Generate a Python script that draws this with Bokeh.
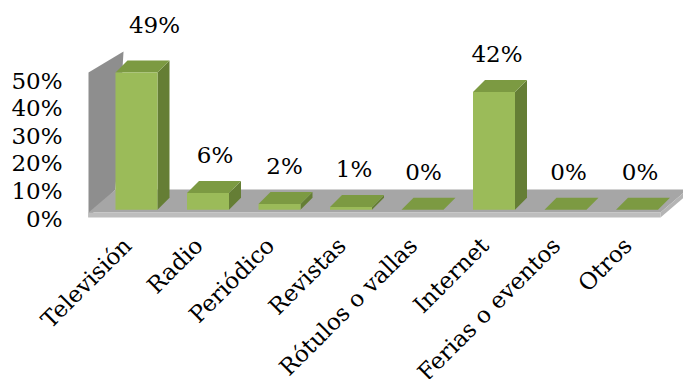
from math import pi

from bokeh.core.properties import value
from bokeh.embed import file_html
from bokeh.models import ColumnDataSource, Range1d
from bokeh.plotting import figure
from bokeh.resources import INLINE

# Share of respondents by media channel (percent)
categories = ["Televisión", "Radio", "Periódico", "Revistas",
              "Rótulos o vallas", "Internet", "Ferias o eventos", "Otros"]
shares = [49, 6, 2, 1, 0, 42, 0, 0]
tick_values = [0, 10, 20, 30, 40, 50]
tick_labels = ["0%", "10%", "20%", "30%", "40%", "50%"]

# ---- canvas and data <-> screen scale -------------------------------------
W, H = 683, 379
PX_PER_CAT = 71.5      # screen px per category slot
PX_PER_PCT = 2.8       # screen px per percentage point
ORIGIN_X, ORIGIN_Y = 88, 212   # front-left corner of the floor, px

def dx(px):
    return px / PX_PER_CAT

def dy(px):
    return px / PX_PER_PCT

FONT = value("DejaVu Serif")
FONT_SIZE = "23px"

# 3-D box geometry in data units
n = len(categories)
FLOOR_DX, FLOOR_DY = dx(27), dy(23)   # depth of the floor
FLOOR_T = dy(5)                        # floor thickness
WALL_TOP = max(tick_values)
WALL_BACK_X, WALL_BACK_Y = dx(35), dy(161)
BAR_SHIFT = dx(136 - ORIGIN_X) - 0.5   # bar centre offset within its slot
BAR_BASE = dy(2.8)
BAR_HALF = dx(21)
BAR_DX, BAR_DY = dx(12), dy(12)

p = figure(width=W, height=H, output_backend="svg", toolbar_location=None,
           x_range=Range1d(-ORIGIN_X / PX_PER_CAT, (W - ORIGIN_X) / PX_PER_CAT),
           y_range=Range1d((ORIGIN_Y - H) / PX_PER_PCT, ORIGIN_Y / PX_PER_PCT),
           x_axis_location=None, y_axis_location=None, min_border=0,
           outline_line_color=None, background_fill_color="white",
           border_fill_color="white")
p.grid.visible = False

# side wall
p.patch([0, 0, WALL_BACK_X, FLOOR_DX],
        [-FLOOR_T, WALL_TOP, WALL_BACK_Y, FLOOR_DY],
        fill_color="#8E8E8E", line_color=None)

# floor: top, front edge, right edge
p.patch([0, n, n + FLOOR_DX, FLOOR_DX], [0, 0, FLOOR_DY, FLOOR_DY],
        fill_color="#A6A6A6", line_color=None)
p.patch([0, n, n, 0], [0, 0, -FLOOR_T, -FLOOR_T],
        fill_color="#BDBDBD", line_color=None)
p.patch([n, n + FLOOR_DX, n + FLOOR_DX, n],
        [0, FLOOR_DY, FLOOR_DY - FLOOR_T, -FLOOR_T],
        fill_color="#B4B4B4", line_color=None)

# bars: side, top and front faces
side_xs, side_ys, top_xs, top_ys, front_xs, front_ys = [], [], [], [], [], []
for i, v in enumerate(shares):
    c = i + 0.5 + BAR_SHIFT
    l, r = c - BAR_HALF, c + BAR_HALF
    b, t = BAR_BASE, BAR_BASE + v
    side_xs.append([r, r + BAR_DX, r + BAR_DX, r])
    side_ys.append([b, b + BAR_DY, t + BAR_DY, t])
    top_xs.append([l, r, r + BAR_DX, l + BAR_DX])
    top_ys.append([t, t, t + BAR_DY, t + BAR_DY])
    front_xs.append([l, r, r, l])
    front_ys.append([b, b, t, t])

p.patches(side_xs, side_ys, fill_color="#657E35", line_color=None)
p.patches(top_xs, top_ys, fill_color="#7C9A42", line_color=None)
p.patches(front_xs, front_ys, fill_color="#9BBB59", line_color=None)

# value labels above each bar
label_shift_x = [15, 4, 2, 0, -2, 0, 0, 0]     # px nudges
label_shift_y = [-10, 0, 0, 0, 0, 0, 0, 0]
val_src = ColumnDataSource(dict(
    x=[i + 0.5 + BAR_SHIFT + dx(3) for i in range(n)],
    y=[v + BAR_BASE + BAR_DY + dy(26) for v in shares],
    text=[f"{v}%" for v in shares],
    xo=label_shift_x, yo=label_shift_y,
))
p.text("x", "y", text="text", source=val_src, x_offset="xo", y_offset="yo",
       text_font=FONT, text_font_size=FONT_SIZE, text_color="black",
       text_align="center", text_baseline="middle")

# value axis labels along the wall front edge
tick_src = ColumnDataSource(dict(
    x=[dx(62 - ORIGIN_X)] * len(tick_values),
    y=[dy(ORIGIN_Y - 218) + t * 2.76 / PX_PER_PCT for t in tick_values],
    text=tick_labels,
))
p.text("x", "y", text="text", source=tick_src, text_font=FONT,
       text_font_size=FONT_SIZE, text_color="black",
       text_align="right", text_baseline="middle")

# category labels, rotated
cat_src = ColumnDataSource(dict(
    x=[i + 0.5 + dx(3) for i in range(n)],
    y=[dy(ORIGIN_Y - 241)] * n,
    text=categories,
))
p.text("x", "y", text="text", source=cat_src, angle=pi / 4,
       text_font=FONT, text_font_size=FONT_SIZE, text_color="black",
       text_align="right", text_baseline="middle")

open("out.html", "w").write(file_html(p, INLINE))
